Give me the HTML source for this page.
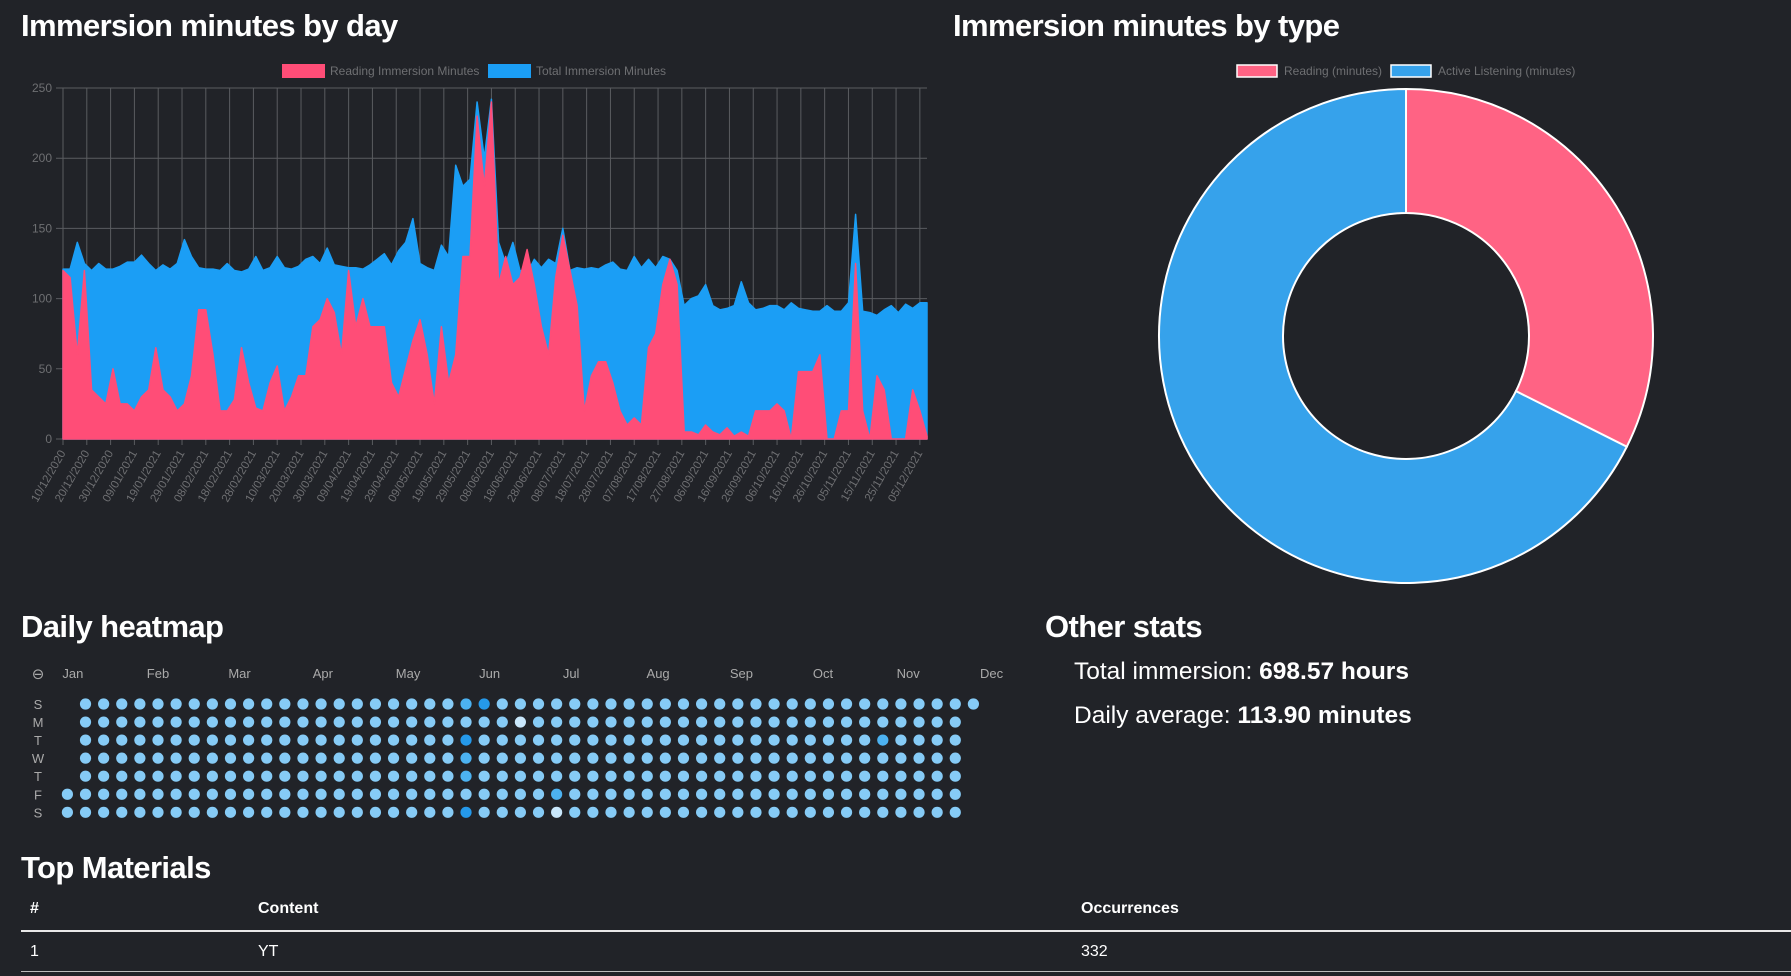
<!DOCTYPE html>
<html><head><meta charset="utf-8">
<style>
html,body{margin:0;padding:0;background:#212328;width:1791px;height:976px;overflow:hidden;font-family:"Liberation Sans",sans-serif;color:#fff}
.h{position:absolute;font-weight:bold;font-size:31px;letter-spacing:-0.6px;line-height:1;white-space:nowrap}
.stat{position:absolute;left:1074px;font-size:24.5px;line-height:1;white-space:nowrap}
.th{position:absolute;top:900px;font-weight:bold;font-size:16px}
.td{position:absolute;top:943px;font-size:16px}
svg{position:absolute;left:0;top:0}
</style></head><body>
<div class="h" style="left:21px;top:10px">Immersion minutes by day</div>
<div class="h" style="left:953px;top:10px">Immersion minutes by type</div>
<div class="h" style="left:21px;top:611px">Daily heatmap</div>
<div class="h" style="left:1045px;top:611px">Other stats</div>
<div class="stat" style="top:660px">Total immersion: <b>698.57 hours</b></div>
<div class="stat" style="top:704px">Daily average: <b>113.90 minutes</b></div>
<div class="h" style="left:21px;top:852px">Top Materials</div>
<div class="th" style="left:30px">#</div>
<div class="th" style="left:258px">Content</div>
<div class="th" style="left:1081px">Occurrences</div>
<div style="position:absolute;left:21px;top:930px;width:1770px;height:2px;background:#e8e8e8"></div>
<div class="td" style="left:30px">1</div>
<div class="td" style="left:258px">YT</div>
<div class="td" style="left:1081px">332</div>
<div style="position:absolute;left:21px;top:971px;width:1770px;height:1px;background:#bbb"></div>

<svg id="svg" width="1791" height="976" xmlns="http://www.w3.org/2000/svg"></svg>

<script>
const dateLabels=["10/12/2020","20/12/2020","30/12/2020","09/01/2021","19/01/2021","29/01/2021","08/02/2021","18/02/2021","28/02/2021","10/03/2021","20/03/2021","30/03/2021","09/04/2021","19/04/2021","29/04/2021","09/05/2021","19/05/2021","29/05/2021","08/06/2021","18/06/2021","28/06/2021","08/07/2021","18/07/2021","28/07/2021","07/08/2021","17/08/2021","27/08/2021","06/09/2021","16/09/2021","26/09/2021","06/10/2021","16/10/2021","26/10/2021","05/11/2021","15/11/2021","25/11/2021","05/12/2021"];
const yTicks=[0,50,100,150,200,250];
const totalMinutes=[121,121,140,125,120,125,121,121,123,126,
126,131,125,120,124,121,125,142,130,122,
121,121,120,125,120,119,121,130,120,122,
130,122,121,123,128,130,125,136,124,123,
122,122,121,124,128,132,124,134,140,157,
125,122,120,138,130,195,180,185,240,200,
242,140,125,140,120,118,128,122,128,125,
150,120,122,121,122,121,124,126,121,120,
130,122,128,122,130,128,120,95,100,102,
110,95,92,93,95,112,97,92,93,95,
95,92,97,93,92,91,91,95,91,91,
97,160,91,90,88,92,95,90,96,93,97,97];
const readingMinutes=[120,115,60,120,35,30,25,50,25,25,
20,30,35,65,35,30,20,25,45,92,
92,60,20,20,28,65,40,22,20,40,
52,20,30,45,45,80,85,100,90,60,
120,80,100,80,80,80,40,30,50,70,
85,60,25,80,40,60,130,130,230,180,
240,110,130,110,115,135,110,80,60,115,
145,120,95,20,45,55,55,40,20,10,
15,10,65,75,110,128,110,5,5,3,
10,5,3,8,2,5,2,20,20,20,
25,20,0,48,48,48,60,0,0,20,
20,125,20,0,45,35,0,0,0,35,20,2];
const pieLabels=["Reading (minutes)","Active Listening (minutes)"];
const pieValues=[32.4,67.6];
const months=["Jan","Feb","Mar","Apr","May","Jun","Jul","Aug","Sep","Oct","Nov","Dec"];
const monthWeekCol=[0.3,5,9.5,14.1,18.8,23.3,27.8,32.6,37.2,41.7,46.4,51];
const dayLabels=["S","M","T","W","T","F","S"];
const heatRows=[
".111111111111111111111"+"23"+"111111111111111111111111111",
".111111111111111111111111"+"0"+"111111111111111111111111"+".",
".111111111111111111111"+"3"+"1111111111111111111111"+"2"+"1111"+".",
".111111111111111111111"+"2"+"111111111111111111111111111"+".",
".111111111111111111111"+"2"+"111111111111111111111111111"+".",
"111111111111111111111111111"+"2"+"1111111111111111111111"+".",
"1111111111111111111111"+"3"+"1111"+"0"+"1111111111111111111111"+"."];
const levelColors={"0":"#c9e7fb","1":"#86cbf6","2":"#4cb2f1","3":"#2599ea"};

const NS="http://www.w3.org/2000/svg";
const svg=document.getElementById('svg');
function mk(tag,attrs,parent){const e=document.createElementNS(NS,tag);for(const k in attrs)e.setAttribute(k,attrs[k]);(parent||svg).appendChild(e);return e;}

const X0=63,X1=927,Y0=439,Ytop=88,YMAX=250;
const nPts=totalMinutes.length;
const xs=i=>X0+i*(X1-X0)/(nPts-1);
const ys=v=>Y0-v/YMAX*(Y0-Ytop);
const xl=i=>X0+i*10/3*(X1-X0)/(nPts-1);

yTicks.forEach(t=>{
  const g=mk('line',{x1:X0-7,x2:X1,y1:ys(t),y2:ys(t),stroke:'#5a5c60','stroke-width':1});
  
  
  const tx=mk('text',{x:X0-11,y:ys(t)+4,'text-anchor':'end','font-size':12,fill:'#6e6f72','font-family':'Liberation Sans'});
  tx.textContent=t;
  
  
});
dateLabels.forEach((d,i)=>{
  const x=xl(i);
  const g=mk('line',{x1:x,x2:x,y1:Ytop,y2:Y0+6,stroke:'#5a5c60','stroke-width':1});
  
  
  const t=mk('text',{x:x+3,y:Y0+14,'text-anchor':'end','font-size':11.5,fill:'#6e6f72','font-family':'Liberation Sans',transform:`rotate(-60 ${x+3} ${Y0+14})`});
  t.textContent=d;
  
  
});
function area(vals,color,name){
  let d=`M${xs(0)},${Y0}`;
  vals.forEach((v,i)=>{d+=` L${xs(i).toFixed(1)},${ys(v).toFixed(1)}`;});
  d+=` L${xs(vals.length-1)},${Y0} Z`;
  const p=mk('path',{d:d,fill:color,stroke:color,'stroke-width':1.5,'stroke-linejoin':'round'});
  
  
}
area(totalMinutes,'#1b9ef5','total-minutes-area');
area(readingMinutes,'#ff4d77','reading-minutes-area');

[[282,'#ff4d77','Reading Immersion Minutes',330],[488,'#1b9ef5','Total Immersion Minutes',536]].forEach(([bx,c,txt,tx])=>{
  const r=mk('rect',{x:bx,y:64,width:43,height:14,fill:c});
  
  
  const t=mk('text',{x:tx,y:75,'font-size':12,fill:'#6e6f72','font-family':'Liberation Sans'});
  t.textContent=txt;
  
  
});

const CX=1406,CY=336,RO=247,RI=123;
const pieColors=['#ff6384','#36a2eb'];
const sum=pieValues.reduce((a,b)=>a+b,0);
let ang=0;
pieValues.forEach((v,i)=>{
  const a0=ang,a1=ang+v/sum*2*Math.PI;ang=a1;
  const P=(r,a)=>[CX+r*Math.sin(a),CY-r*Math.cos(a)];
  const lg=(a1-a0)>Math.PI?1:0;
  const [x0,y0]=P(RO,a0),[x1,y1]=P(RO,a1),[x2,y2]=P(RI,a1),[x3,y3]=P(RI,a0);
  const p=mk('path',{d:`M${x0},${y0} A${RO},${RO} 0 ${lg} 1 ${x1},${y1} L${x2},${y2} A${RI},${RI} 0 ${lg} 0 ${x3},${y3} Z`,fill:pieColors[i],stroke:'#fff','stroke-width':2});
  
  
});
[[1237,1284],[1391,1438]].forEach(([bx,tx],i)=>{
  const r=mk('rect',{x:bx,y:65,width:40,height:12,fill:pieColors[i],stroke:'#fff','stroke-width':1.5});
  
  
  const t=mk('text',{x:tx,y:75,'font-size':12,fill:'#6e6f72','font-family':'Liberation Sans'});
  t.textContent=pieLabels[i];
  
  
});

const HX=67.4,HDX=18.12,HY=704,HDY=18.05;
const ic=mk('text',{x:38,y:679,'text-anchor':'middle','font-size':15,fill:'#aaa','font-family':'DejaVu Sans'});
ic.textContent='⊖';


months.forEach((m,i)=>{
  const t=mk('text',{x:HX+monthWeekCol[i]*HDX,y:678,'text-anchor':'middle','font-size':13,fill:'#aaa','font-family':'Liberation Sans'});
  t.textContent=m;
  
  
});
dayLabels.forEach((d,r)=>{
  const t=mk('text',{x:38,y:HY+r*HDY+5,'text-anchor':'middle','font-size':13,fill:'#aaa','font-family':'Liberation Sans'});
  t.textContent=d;
  
  
});
heatRows.forEach((row,r)=>{
  for(let c=0;c<row.length;c++){
    const ch=row[c];if(!(ch in levelColors))continue;
    const e=mk('circle',{cx:HX+c*HDX,cy:HY+r*HDY,r:5.6,fill:levelColors[ch]});
    
    
  }
});
</script>
</body></html>
